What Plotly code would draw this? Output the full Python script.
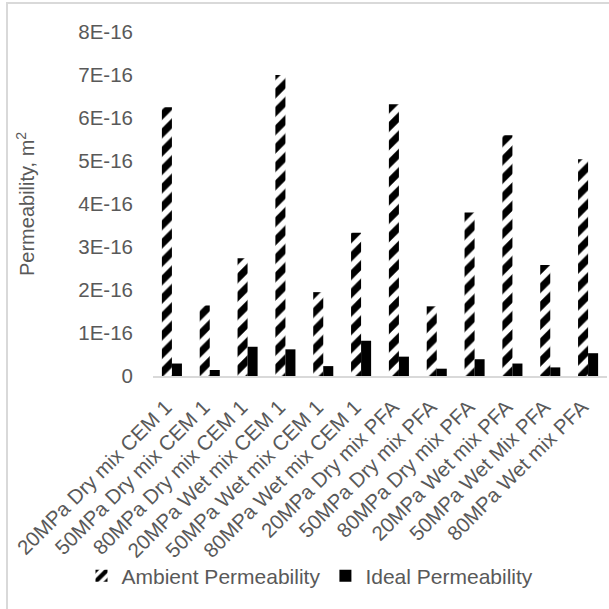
import plotly.graph_objects as go

categories = [
    "20MPa Dry mix CEM 1", "50MPa Dry mix CEM 1", "80MPa Dry mix CEM 1",
    "20MPa Wet mix CEM 1", "50MPa Wet mix CEM 1", "80MPa Wet mix CEM 1",
    "20MPa Dry mix PFA", "50MPa Dry mix PFA", "80MPa Dry mix PFA",
    "20MPa Wet mix PFA", "50MPa Wet Mix PFA", "80MPa Wet mix PFA",
]
ambient = [6.25e-16, 1.64e-16, 2.74e-16, 7.0e-16, 1.95e-16, 3.33e-16,
           6.32e-16, 1.62e-16, 3.8e-16, 5.6e-16, 2.58e-16, 5.04e-16]
ideal = [0.29e-16, 0.14e-16, 0.68e-16, 0.62e-16, 0.23e-16, 0.82e-16,
         0.45e-16, 0.17e-16, 0.39e-16, 0.29e-16, 0.2e-16, 0.53e-16]
y_tickvals = [0, 1e-16, 2e-16, 3e-16, 4e-16, 5e-16, 6e-16, 7e-16, 8e-16]
y_ticktext = ["0", "1E-16", "2E-16", "3E-16", "4E-16", "5E-16", "6E-16", "7E-16", "8E-16"]

FONT = "Arial, Liberation Sans, sans-serif"
GRAY = "#595959"

fig = go.Figure()
fig.add_trace(go.Bar(
    x=categories, y=ambient, name="Ambient Permeability",
    marker=dict(color="white", line=dict(width=0),
                pattern=dict(shape="/", fgcolor="black", bgcolor="white",
                             fgopacity=1, size=13, solidity=0.55,
                             fillmode="replace")),
))
fig.add_trace(go.Bar(
    x=categories, y=ideal, name="Ideal Permeability",
    marker=dict(color="black", line=dict(width=0)),
))

L, R, T, B = 153, 2, 32, 233
W = H = 609
pw = W - L - R
ph = H - T - B

fig.update_layout(
    width=W, height=H,
    margin=dict(l=L, r=R, t=T, b=B, autoexpand=False),
    paper_bgcolor="white", plot_bgcolor="white",
    barmode="group", bargap=0.47, bargroupgap=0,
    font=dict(family=FONT, size=21, color=GRAY),
    showlegend=True,
    legend=dict(orientation="h", x=(310 - L) / pw, y=(T + ph - 576) / ph,
                xanchor="center", yanchor="middle",
                font=dict(size=21, color=GRAY), itemwidth=30,
                bgcolor="rgba(0,0,0,0)"),
    xaxis=dict(tickangle=-45, showgrid=False, showline=True, automargin=False,
               linecolor="#d9d9d9", linewidth=2, ticks="",
               ticklabelshift=-6, ticklabelstandoff=9,
               tickfont=dict(size=20.5, color=GRAY)),
    yaxis=dict(range=[0, 8e-16], tickvals=y_tickvals, ticktext=y_ticktext,
               showgrid=False, zeroline=False, showline=False, ticks="",
               automargin=False, ticklabelstandoff=19,
               tickfont=dict(size=20.5, color=GRAY)),
    annotations=[dict(text="Permeability, m<sup>2</sup>", xref="paper", yref="paper",
                      x=(25 - L) / pw, y=0.5, textangle=-90, showarrow=False,
                      xanchor="center", yanchor="middle",
                      font=dict(size=20, color=GRAY))],
    shapes=[dict(type="rect", xref="paper", yref="paper",
                 x0=(7 - L) / pw, x1=1.2, y0=-1.0, y1=(T + ph - 3) / ph,
                 line=dict(color="#d9d9d9", width=2), fillcolor="rgba(0,0,0,0)",
                 layer="below")],
)

fig.write_html("out.html", config={"displayModeBar": False},
               post_script="document.body.style.margin='0';document.body.style.overflow='hidden';")
